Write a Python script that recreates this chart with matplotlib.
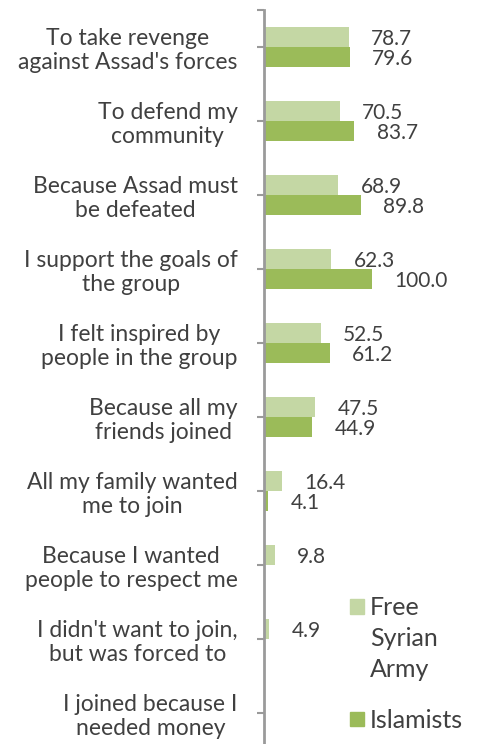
import matplotlib
matplotlib.use('Agg')
import matplotlib.pyplot as plt
from matplotlib.patches import Rectangle
import numpy as np

# reasons for joining, top to bottom
reasons = [
    "To take revenge\nagainst Assad's forces",
    "To defend my\ncommunity",
    "Because Assad must\nbe defeated",
    "I support the goals of\nthe group",
    "I felt inspired by\npeople in the group",
    "Because all my\nfriends joined",
    "All my family wanted\nme to join",
    "Because I wanted\npeople to respect me",
    "I didn't want to join,\nbut was forced to",
    "I joined because I\nneeded money",
]
fsa = [78.7, 70.5, 68.9, 62.3, 52.5, 47.5, 16.4, 9.8, 4.9, None]
islamists = [79.6, 83.7, 89.8, 100.0, 61.2, 44.9, 4.1, None, None, None]

fsa_color = '#c4d7a4'
isl_color = '#9bbb59'
text_color = '#404040'
axis_color = '#9a9a9a'

plt.rcParams['font.family'] = ['Lato', 'DejaVu Sans']

W, H = 482, 744
fig = plt.figure(figsize=(W / 100, H / 100), dpi=100)

# axes placed in pixel terms: y axis at x=264, top at y=10, bottom below figure edge
left_px, top_px, bottom_px = 264, 10, 750
ax = fig.add_axes([left_px / W, (H - bottom_px) / H, 216 / W, (bottom_px - top_px) / H])

y = np.arange(len(reasons))
h = 0.277

fsa_vals = [v if v is not None else 0 for v in fsa]
isl_vals = [v if v is not None else 0 for v in islamists]
ax.barh(y - h / 2, fsa_vals, height=h, color=fsa_color)
ax.barh(y + h / 2, isl_vals, height=h, color=isl_color)

for i in range(len(reasons)):
    if fsa[i] is not None:
        ax.annotate(f"{fsa[i]:.1f}", (fsa[i], i - h / 2), xytext=(16, -1.5),
                    textcoords='offset points', va='center', ha='left',
                    fontsize=15, color=text_color)
    if islamists[i] is not None:
        ax.annotate(f"{islamists[i]:.1f}", (islamists[i], i + h / 2), xytext=(16, -1.5),
                    textcoords='offset points', va='center', ha='left',
                    fontsize=15, color=text_color)

ax.set_xlim(0, 200)
ax.set_ylim(len(reasons) - 0.5, -0.5)

ax.set_yticks(y)
ax.set_yticklabels(reasons, fontsize=16.5, color=text_color,
                   multialignment='center', linespacing=1.15)
ax.set_yticks([-0.5], minor=True)
ax.tick_params(axis='y', which='both', length=5, width=1.5, color=axis_color, pad=14)
ax.set_xticks([])

for s in ['top', 'right', 'bottom']:
    ax.spines[s].set_visible(False)
ax.spines['left'].set_color(axis_color)
ax.spines['left'].set_linewidth(2)

# legend, drawn by hand to match the stacked label
def px(x, yy):
    return x / W, 1 - yy / H

fig.patches.append(Rectangle(px(350, 614), 14 / W, 15 / H, transform=fig.transFigure,
                             color=fsa_color, figure=fig))
fig.text(*px(370, 596), "Free\nSyrian\nArmy", fontsize=18, color=text_color,
         va='top', ha='left', linespacing=1.42)
fig.patches.append(Rectangle(px(350, 726), 14 / W, 14 / H, transform=fig.transFigure,
                             color=isl_color, figure=fig))
fig.text(*px(370, 721), "Islamists", fontsize=18, color=text_color,
         va='center', ha='left')

fig.savefig('out.png', dpi=100)
